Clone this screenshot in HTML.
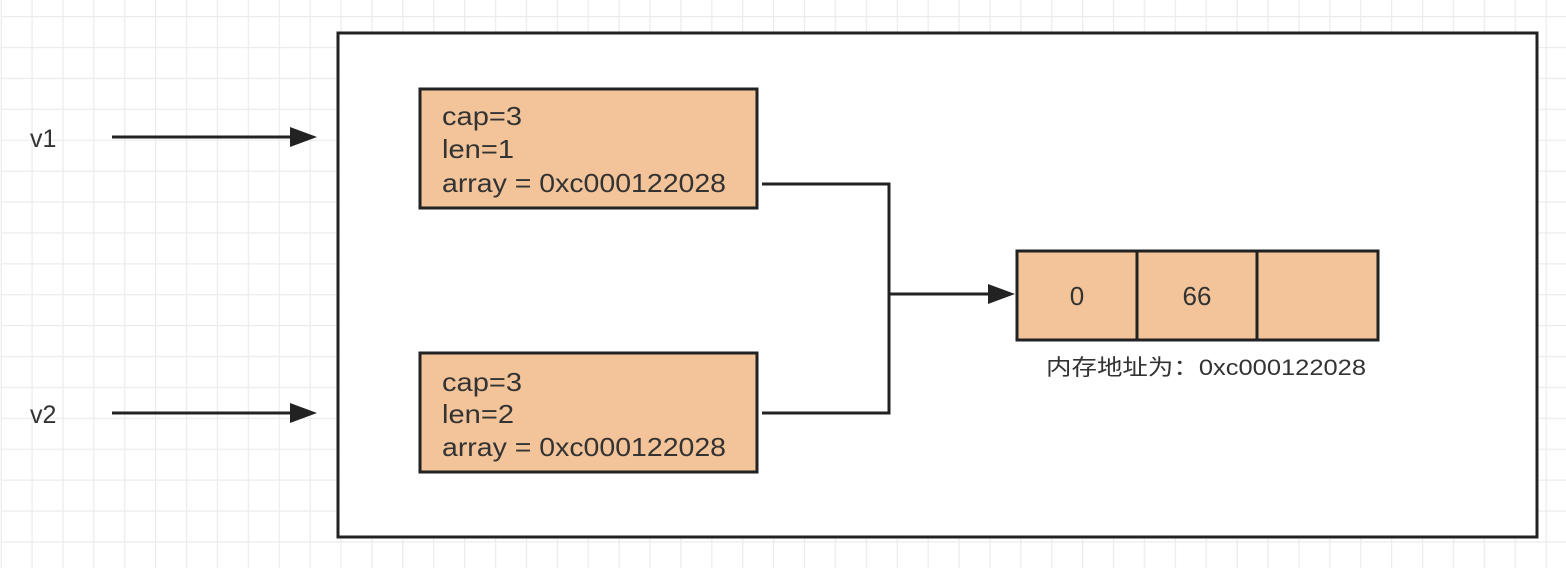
<!DOCTYPE html>
<html><head><meta charset="utf-8"><style>
html,body{margin:0;padding:0;background:#fff}
svg{display:block}
text{font-family:"Liberation Sans","Noto Sans CJK SC",sans-serif;fill:#333}
</style></head><body>
<svg width="1566" height="568" viewBox="0 0 1566 568" xmlns="http://www.w3.org/2000/svg">
<defs>
<pattern id="g" x="0" y="16" width="30.9" height="30.9" patternUnits="userSpaceOnUse">
<path d="M0.5 0V31M0 0.5H31" stroke="#ececec" stroke-width="1.5" fill="none"/>
</pattern>
</defs>
<rect x="0" y="0" width="1566" height="568" fill="#fff"/>
<rect x="0" y="0" width="1566" height="568" fill="url(#g)" transform="translate(0.5,0)"/>
<rect x="338" y="33" width="1199" height="504" fill="#fff" stroke="#222" stroke-width="3"/>
<text x="30" y="147" font-size="25">v1</text>
<text x="30" y="423" font-size="25">v2</text>
<line x1="112" y1="137" x2="292" y2="137" stroke="#222" stroke-width="3"/>
<polygon points="290,127 317,137 290,147" fill="#222"/>
<line x1="112" y1="413" x2="292" y2="413" stroke="#222" stroke-width="3"/>
<polygon points="290,403 317,413 290,423" fill="#222"/>
<rect x="420" y="89" width="337" height="119" fill="#f3c499" stroke="#222" stroke-width="3"/>
<text x="442" y="125" font-size="26" textLength="80" lengthAdjust="spacingAndGlyphs">cap=3</text>
<text x="442" y="158" font-size="26" textLength="72" lengthAdjust="spacingAndGlyphs">len=1</text>
<text x="442" y="192" font-size="26" textLength="284" lengthAdjust="spacingAndGlyphs">array = 0xc000122028</text>
<rect x="420" y="353" width="337" height="119" fill="#f3c499" stroke="#222" stroke-width="3"/>
<text x="442" y="391" font-size="26" textLength="80" lengthAdjust="spacingAndGlyphs">cap=3</text>
<text x="442" y="423" font-size="26" textLength="72" lengthAdjust="spacingAndGlyphs">len=2</text>
<text x="442" y="456" font-size="26" textLength="284" lengthAdjust="spacingAndGlyphs">array = 0xc000122028</text>
<polyline points="762,184 889,184 889,413 762,413" fill="none" stroke="#222" stroke-width="3"/>
<line x1="889" y1="294" x2="990" y2="294" stroke="#222" stroke-width="3"/>
<polygon points="988,284 1015,294 988,304" fill="#222"/>
<rect x="1017" y="251" width="361" height="89" fill="#f3c499" stroke="#222" stroke-width="3"/>
<line x1="1137" y1="251" x2="1137" y2="340" stroke="#222" stroke-width="3"/>
<line x1="1257" y1="251" x2="1257" y2="340" stroke="#222" stroke-width="3"/>
<text x="1077" y="305" font-size="26" text-anchor="middle">0</text>
<text x="1197" y="305" font-size="26" text-anchor="middle">66</text>
<text x="1046" y="375" font-size="22" textLength="320" lengthAdjust="spacingAndGlyphs">内存地址为：0xc000122028</text>
</svg>
</body></html>
